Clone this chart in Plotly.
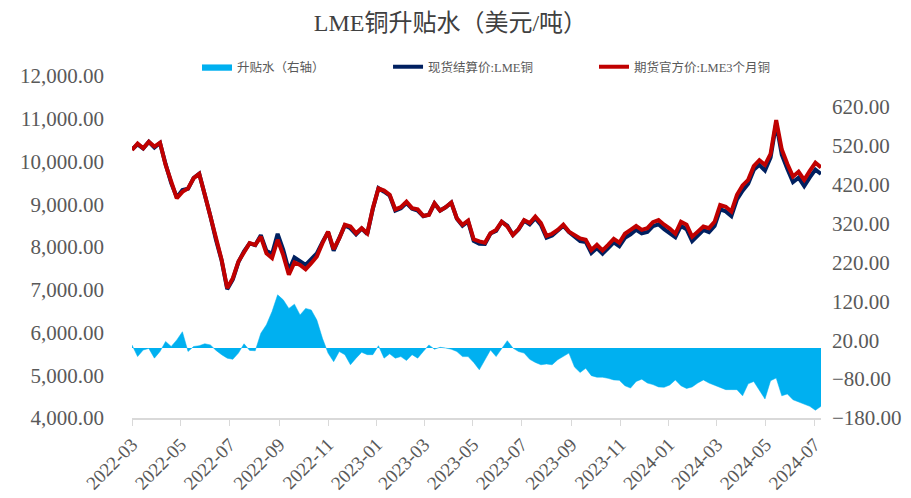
import pandas as pd
import plotly.graph_objects as go

dates = pd.date_range("2022-03-01", periods=124, freq="7D")

futures_3m = [10270, 10420, 10310, 10460, 10350, 10440, 9920, 9490, 9140, 9290,
              9370, 9610, 9710, 9220, 8710, 8170, 7700, 7040, 7270, 7660,
              7890, 8090, 8050, 8240, 7850, 7740, 8170, 7810, 7350, 7640,
              7580, 7480, 7620, 7780, 8090, 8360, 7950, 8200, 8520, 8480,
              8320, 8440, 8320, 8910, 9370, 9320, 9220, 8880, 8930, 9060,
              8910, 8880, 8730, 8750, 9020, 8850, 8930, 9040, 8670, 8520,
              8620, 8180, 8130, 8100, 8320, 8400, 8590, 8480, 8280, 8420,
              8630, 8560, 8710, 8560, 8260, 8310, 8400, 8520, 8360, 8280,
              8200, 8170, 7930, 8050, 7920, 8050, 8190, 8100, 8310, 8400,
              8490, 8400, 8440, 8580, 8630, 8520, 8430, 8310, 8590, 8520,
              8240, 8360, 8480, 8440, 8590, 8980, 8940, 8830, 9220, 9440,
              9570, 9890, 10030, 9920, 10180, 10970, 10280, 9940, 9650, 9760,
              9570, 9780, 9970, 9860]

spot_cash = [10280, 10400, 10305, 10460, 10324, 10431, 9937, 9494, 9161, 9332,
             9361, 9614, 9716, 9231, 8718, 8164, 7683, 7014, 7241, 7647,
             7901, 8084, 8043, 8278, 7910, 7834, 8307, 7934, 7452, 7753,
             7665, 7582, 7718, 7852, 8115, 8347, 7915, 8191, 8503, 8437,
             8294, 8429, 8303, 8893, 9376, 9294, 9205, 8854, 8908, 9028,
             8893, 8854, 8721, 8758, 9017, 8852, 8930, 9037, 8661, 8498,
             8598, 8143, 8074, 8070, 8315, 8378, 8590, 8499, 8280, 8411,
             8617, 8531, 8673, 8517, 8219, 8267, 8370, 8498, 8347, 8231,
             8137, 8118, 7859, 7975, 7845, 7972, 8108, 8017, 8213, 8297,
             8404, 8320, 8350, 8486, 8530, 8419, 8335, 8228, 8493, 8416,
             8140, 8270, 8398, 8350, 8495, 8879, 8833, 8723, 9113, 9317,
             9478, 9804, 9923, 9789, 10096, 10893, 10157, 9822, 9517, 9621,
             9426, 9630, 9810, 9710]

spread = [8, -22, -5, -1, -26, -9, 17, 4, 21, 42,
          -9, 4, 6, 11, 8, -6, -17, -26, -29, -13,
          11, -6, -7, 38, 60, 94, 137, 124, 102, 113,
          85, 102, 98, 72, 25, -13, -35, -9, -17, -43,
          -26, -11, -17, -17, 6, -26, -15, -26, -22, -32,
          -17, -26, -9, 8, -3, 2, 0, -3, -9, -22,
          -22, -37, -56, -30, -5, -22, 0, 19, 0, -9,
          -13, -29, -37, -43, -41, -43, -30, -22, -13, -49,
          -63, -52, -71, -75, -75, -78, -82, -83, -97, -103,
          -86, -80, -90, -94, -100, -101, -95, -82, -97, -104,
          -100, -90, -82, -90, -95, -101, -107, -107, -107, -123,
          -92, -86, -107, -131, -84, -77, -123, -118, -133, -139,
          -144, -150, -160, -150]

right_ticks = [-180, -80, 20, 120, 220, 320, 420, 520, 620]

FONT = "Liberation Serif, Noto Sans CJK SC, serif"
GREY = "#595959"

fig = go.Figure()
fig.add_trace(go.Scatter(
    x=dates, y=spread, name="升贴水（右轴）", mode="lines",
    fill="tozeroy", fillcolor="#00B0F0",
    line=dict(color="#00B0F0", width=0.5), yaxis="y", legend="legend"))
fig.add_trace(go.Scatter(
    x=dates, y=spot_cash, name="现货结算价:LME铜", mode="lines",
    line=dict(color="#002060", width=4), yaxis="y2", legend="legend2"))
fig.add_trace(go.Scatter(
    x=dates, y=futures_3m, name="期货官方价:LME3个月铜", mode="lines",
    line=dict(color="#C00000", width=4), yaxis="y2", legend="legend3"))

leg_common = dict(orientation="h", xanchor="left", y=1.026, yanchor="middle",
                  font=dict(family=FONT, size=12.5, color=GREY),
                  bgcolor="rgba(0,0,0,0)")

fig.update_layout(
    width=903, height=490,
    margin=dict(l=124, r=90, t=68, b=80),
    paper_bgcolor="white", plot_bgcolor="white",
    font=dict(family=FONT, color=GREY),
    title=dict(text="LME铜升贴水（美元/吨）", x=0.49, xanchor="center",
               y=0.971, yanchor="middle",
               font=dict(family=FONT, size=24, color="#404040")),
    showlegend=True,
    legend=dict(x=0.0943, **leg_common),
    legend2=dict(x=0.3716, **leg_common),
    legend3=dict(x=0.6705, **leg_common),
    xaxis=dict(type="date", range=["2022-03-01", "2024-07-09"],
               tick0="2022-03-01", dtick="M2", tickformat="%Y-%m",
               tickangle=-45, showgrid=False, zeroline=False,
               showline=True, linecolor="#D9D9D9", linewidth=2,
               ticks="outside", ticklen=6, tickcolor="#D9D9D9",
               automargin=False,
               tickfont=dict(family=FONT, size=19, color=GREY)),
    yaxis=dict(side="right", range=[-180, 700], tickvals=right_ticks,
               tickformat=".2f", showgrid=False, zeroline=False, showline=False,
               automargin=False,
               tickfont=dict(family=FONT, size=21, color=GREY),
               ticklabelstandoff=10),
    yaxis2=dict(side="left", overlaying="y", range=[4000, 12000], dtick=1000,
                tickformat=",.2f", showgrid=False, zeroline=False, showline=False,
                automargin=False,
                tickfont=dict(family=FONT, size=21, color=GREY),
                ticklabelstandoff=27),
)

fig.write_html("out.html")
